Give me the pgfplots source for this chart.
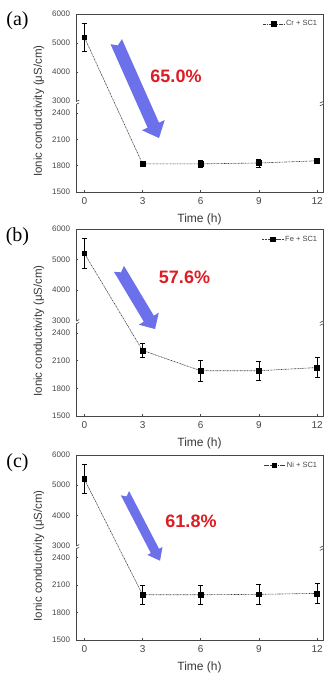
\documentclass[border=0pt]{standalone}
\usepackage{pgfplots}
\usepackage{pgfplotstable}
\pgfplotsset{compat=1.18}
\usepackage{fontspec}
\setmainfont{Liberation Sans}
\newfontfamily\seriffont{Liberation Serif}
\usetikzlibrary{calc}
\definecolor{arrowblue}{RGB}{108,112,235}
\definecolor{pctred}{RGB}{222,28,36}
\definecolor{axgray}{RGB}{70,70,70}
\definecolor{linegray}{RGB}{60,60,60}

\pgfplotstableread{
x y e
0 5200 480
3 1820 20
6 1820 40
9 1830 45
12 1855 30
}\dataA
\pgfplotstableread{
x y e
0 5200 480
3 2210 75
6 1990 110
9 1990 105
12 2025 110
}\dataB
\pgfplotstableread{
x y e
0 5200 480
3 1995 105
6 1995 105
9 2000 105
12 2010 110
}\dataC

\pgfplotsset{
  panel/.style={
    scale only axis, width=247pt,
    xmin=-0.43, xmax=12.3, ymin=1500, ymax=6000,
    y coord trafo/.code={\pgfmathparse{ifthenelse(##1>2750,2535+(##1-3000)*0.33,##1)}},
    xtick={0,3,6,9,12},
    ytick={1500,1800,2100,2400,3000,4000,5000,6000},
    yticklabels={1500,1800,2100,2400,3000,4000,5000,6000},
    tick pos=left, tick align=inside, major tick length=2pt,
    axis line style={axgray, line width=0.7pt},
    every tick/.style={axgray, line width=0.6pt},
    x tick label style={font=\fontsize{10}{12}\selectfont, text=axgray, yshift=-2pt},
    y tick label style={font=\fontsize{8}{10}\selectfont, text=axgray, xshift=-2.5pt},
    /pgf/number format/assume math mode=true,
    xlabel={Time (h)},
    ylabel={Ionic conductivity (μS/cm)},
    xlabel style={at={(rel axis cs:0.5,0)}, anchor=center, yshift=-27pt, font=\fontsize{12}{14}\selectfont, text=axgray!80!black},
    ylabel style={at={(rel axis cs:-0.15,0.455)}, anchor=center, rotate=0, font=\fontsize{11.5}{13}\selectfont, text=axgray!80!black},
    legend style={at={(rel axis cs:0.985,0.975)}, anchor=north east, draw=none, fill=none,
      font=\fontsize{7.5}{9}\selectfont, text=axgray, inner sep=0pt},
    legend cell align=left,
    legend image code/.code={\draw[mark repeat=2,mark phase=2,##1] plot coordinates {(0cm,0cm)(0.36cm,0cm)(0.72cm,0cm)};},
  },
  series/.style={line width=0.6pt, color=linegray,
    dash pattern=on 1.5pt off 0.7pt on 0.5pt off 0.7pt,
    mark=square*, mark size=2.4pt, mark options={solid, fill=black, draw=black},
    error bars/.cd, y dir=both, y explicit,
    error bar style={black, line width=0.7pt, solid},
    error mark options={rotate=90, mark size=2.5pt, line width=0.7pt, black, solid}},
}
% error bars are added in the (broken) axis scale: rescale those of the upper segment
\newcommand{\errexpr}{ifthenelse(\thisrow{y}>2750,\thisrow{e}*0.33,\thisrow{e})}

\newcommand{\onebreak}[1]{%
  \fill[white] ($(rel axis cs:#1,0.5)+(-3pt,-2.8pt)$) -- ($(rel axis cs:#1,0.5)+(3pt,0.2pt)$) -- ($(rel axis cs:#1,0.5)+(3pt,2.8pt)$) -- ($(rel axis cs:#1,0.5)+(-3pt,-0.2pt)$) -- cycle;
  \draw[axgray, line width=0.6pt] ($(rel axis cs:#1,0.5)+(-3.2pt,-2.9pt)$) -- ($(rel axis cs:#1,0.5)+(3.2pt,0.1pt)$);
  \draw[axgray, line width=0.6pt] ($(rel axis cs:#1,0.5)+(-3.2pt,-0.1pt)$) -- ($(rel axis cs:#1,0.5)+(3.2pt,2.9pt)$);
}
\newcommand{\breakmarks}{\onebreak{0}\onebreak{1}}

% tail, tip, shaft half width, head half width, head length, notch depth
\newcommand{\blockarrow}[6]{%
  \coordinate (T) at (#1);
  \coordinate (P) at (#2);
  \coordinate (H) at ($(P)!#5!(T)$);
  \fill[black, opacity=0.12, shift={(1.8pt,-1.8pt)}]
    ($(T)!#3!90:(P)$) -- ($(T)!#6!(P)$) -- ($(T)!#3!-90:(P)$) --
    ($(H)!#3!-90:(P)$) -- ($(H)!#4!-90:(P)$) -- (P) -- ($(H)!#4!90:(P)$) --
    ($(H)!#3!90:(P)$) -- cycle;
  \fill[arrowblue]
    ($(T)!#3!90:(P)$) -- ($(T)!#6!(P)$) -- ($(T)!#3!-90:(P)$) --
    ($(H)!#3!-90:(P)$) -- ($(H)!#4!-90:(P)$) -- (P) -- ($(H)!#4!90:(P)$) --
    ($(H)!#3!90:(P)$) -- cycle;
}

\begin{document}
\begin{tikzpicture}
\useasboundingbox (0,0) rectangle (331pt,-674pt);

% ---------- (a)
\begin{axis}[panel, at={(76pt,-192pt)}, anchor=south west, height=178pt]
\addplot[series] table[x=x, y=y, y error expr=\errexpr] {\dataA};
\addlegendentry{Cr + SC1}
\breakmarks
\end{axis}

% ---------- (b)
\begin{axis}[panel, at={(76pt,-416pt)}, anchor=south west, height=187pt]
\addplot[series] table[x=x, y=y, y error expr=\errexpr] {\dataB};
\addlegendentry{Fe + SC1}
\breakmarks
\end{axis}

% ---------- (c)
\begin{axis}[panel, at={(76pt,-640pt)}, anchor=south west, height=185pt]
\addplot[series] table[x=x, y=y, y error expr=\errexpr] {\dataC};
\addlegendentry{Ni + SC1}
\breakmarks
\end{axis}

% arrows
\blockarrow{116.25pt,-41.75pt}{159pt,-138pt}{6.2pt}{12.4pt}{14pt}{4pt}
\blockarrow{119pt,-268.9pt}{155pt,-329pt}{5.8pt}{11.6pt}{12pt}{4pt}
\blockarrow{125pt,-493.3pt}{160pt,-560.7pt}{4.6pt}{8.5pt}{11pt}{3.5pt}

% percentages
\node[font=\fontsize{18}{20}\selectfont\bfseries, text=pctred] at (176pt,-76pt) {65.0\%};
\node[font=\fontsize{18}{20}\selectfont\bfseries, text=pctred] at (184.5pt,-277.5pt) {57.6\%};
\node[font=\fontsize{18}{20}\selectfont\bfseries, text=pctred] at (191pt,-521.5pt) {61.8\%};

% panel labels
\node[font=\seriffont\fontsize{20}{22}\selectfont] at (17.5pt,-21pt) {(a)};
\node[font=\seriffont\fontsize{20}{22}\selectfont] at (17.5pt,-236.7pt) {(b)};
\node[font=\seriffont\fontsize{20}{22}\selectfont] at (17.5pt,-463pt) {(c)};
\end{tikzpicture}
\end{document}
